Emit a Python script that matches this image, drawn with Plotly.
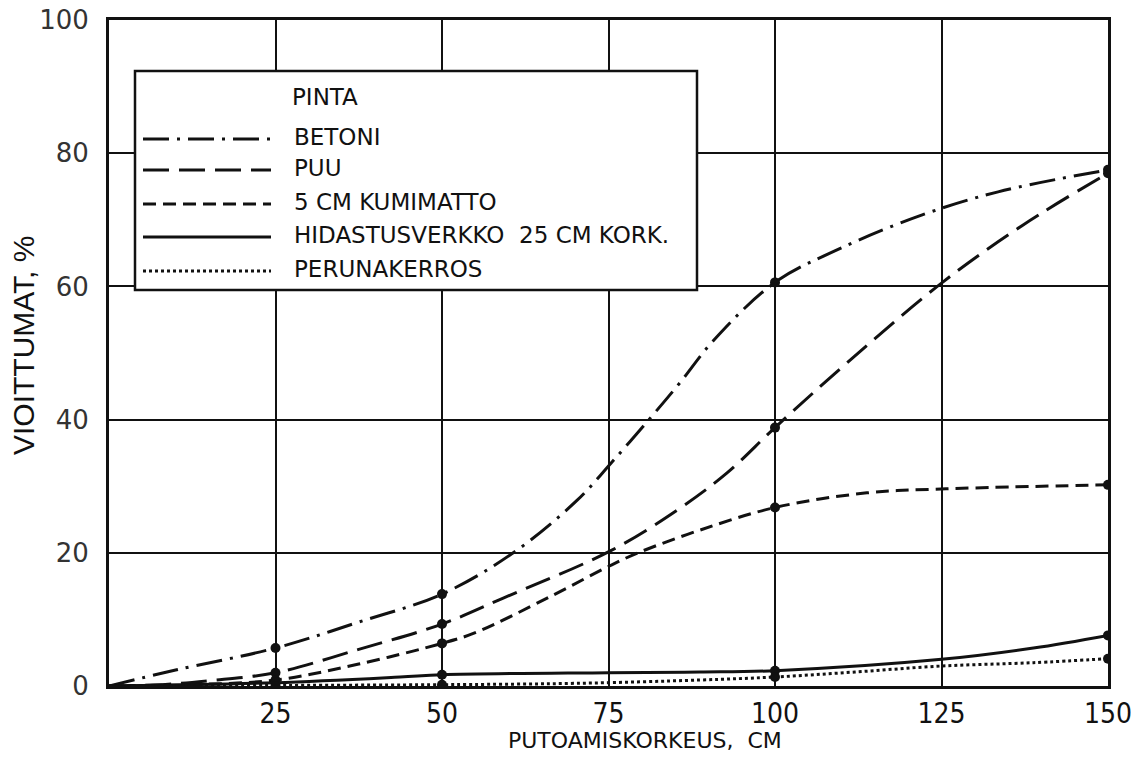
import plotly.graph_objects as go

# ---------------- data ----------------
series_names = ["BETONI", "PUU", "5 CM KUMIMATTO", "HIDASTUSVERKKO  25 CM KORK.", "PERUNAKERROS"]

# measured points (markers)
measured_x = [25, 50, 100, 150]
betoni_pts = [5.7, 13.8, 60.6, 77.5]
puu_pts = [2.0, 9.3, 38.8, 77.0]
kumimatto_pts = [0.9, 6.4, 26.8, 30.2]
hidastus_pts = [0.5, 1.7, 2.3, 7.6]
peruna_pts = [0.0, 0.2, 1.35, 4.1]

# hand-drawn curves
betoni_cx = [0, 10, 25, 37.5, 50, 60.7, 70.3, 75.5, 81.5, 85.7, 90.7, 100, 109.8, 122, 133.5, 150]
betoni_cy = [0, 2.4, 5.7, 9.6, 13.8, 20, 27.9, 33.6, 40.5, 45.5, 51.8, 60.6, 65.7, 70.7, 74.2, 77.5]

puu_cx = [0, 8, 15, 25, 37.5, 50, 59.2, 75.5, 85.3, 92.8, 100, 110.8, 125, 137.2, 150]
puu_cy = [0, 0.2, 0.8, 2.0, 5.5, 9.3, 13.2, 20.4, 26.4, 32, 38.8, 48.5, 60.5, 69.2, 77.0]

kumimatto_cx = [0, 12, 25, 37.5, 50, 55, 66.2, 75.5, 79.7, 88.7, 100, 113.8, 125.7, 150]
kumimatto_cy = [0, 0.2, 0.9, 3.3, 6.4, 8.0, 13.4, 18.2, 20.1, 23.4, 26.8, 29.0, 29.6, 30.2]

hidastus_cx = [0, 25, 43.7, 50, 75, 88.7, 100, 125, 138.8, 150]
hidastus_cy = [0, 0.5, 1.35, 1.7, 2.0, 2.1, 2.3, 4.0, 5.7, 7.6]

peruna_cx = [0, 50, 70, 88.7, 100, 112, 125, 138.8, 150]
peruna_cy = [0, 0.2, 0.4, 0.9, 1.35, 2.1, 3.0, 3.5, 4.1]

x_ticks = [25, 50, 75, 100, 125, 150]
y_ticks = [0, 20, 40, 60, 80, 100]

legend_title = "PINTA"
x_title = "PUTOAMISKORKEUS,  CM"
y_title = "VIOITTUMAT, %"

# ---------------- styles ----------------
INK = "#111111"
dashes = ["26px,8px,3px,8px", "26px,10px", "13px,7px", "solid", "3px,3px"]
curves = [
    (betoni_cx, betoni_cy, betoni_pts),
    (puu_cx, puu_cy, puu_pts),
    (kumimatto_cx, kumimatto_cy, kumimatto_pts),
    (hidastus_cx, hidastus_cy, hidastus_pts),
    (peruna_cx, peruna_cy, peruna_pts),
]

fig = go.Figure()
for name, (cx, cy, pts), dash in zip(series_names, curves, dashes):
    fig.add_trace(go.Scatter(
        x=cx, y=cy, mode="lines", name=name, showlegend=False,
        line=dict(color=INK, width=3, dash=dash, shape="spline", smoothing=1.0),
        hoverinfo="skip",
    ))
    fig.add_trace(go.Scatter(
        x=measured_x, y=pts, mode="markers", name=name, showlegend=False,
        marker=dict(color=INK, size=10),
    ))

# ---------------- geometry helpers (pixel -> paper) ----------------
L, R, T, B = 109, 1108, 20, 686
W, H = R - L, B - T
def px(x):
    return (x - L) / W
def py(y):
    return (B - y) / H

LEG_FONT = dict(family="DejaVu Sans", size=23, color=INK)

# custom legend box
shapes = [dict(type="rect", xref="paper", yref="paper",
               x0=px(135), x1=px(697), y0=py(290), y1=py(71),
               line=dict(color=INK, width=2.5), fillcolor="white", layer="above")]
annotations = [dict(xref="paper", yref="paper", x=px(290), y=py(97), text=legend_title,
                    showarrow=False, xanchor="left", yanchor="middle", font=LEG_FONT)]
row_y = [139, 170, 204, 237, 271]
for name, dash, ry in zip(series_names, dashes, row_y):
    shapes.append(dict(type="line", xref="paper", yref="paper",
                       x0=px(143), x1=px(271), y0=py(ry), y1=py(ry),
                       line=dict(color=INK, width=3, dash=dash), layer="above"))
    annotations.append(dict(xref="paper", yref="paper", x=px(292), y=py(ry - 2), text=name,
                            showarrow=False, xanchor="left", yanchor="middle", font=LEG_FONT))

# axis titles
annotations.append(dict(xref="paper", yref="paper", x=px(645), y=py(740), text=x_title,
                        showarrow=False, xanchor="center", yanchor="middle",
                        font=dict(family="DejaVu Sans", size=22, color=INK)))
annotations.append(dict(xref="paper", yref="paper", x=px(23), y=py(346), text=y_title,
                        showarrow=False, xanchor="center", yanchor="middle", textangle=-90,
                        font=dict(family="Liberation Sans", size=30, color=INK)))

fig.update_layout(
    width=1131, height=769,
    margin=dict(l=L, r=1131 - R, t=T, b=769 - B, autoexpand=False),
    paper_bgcolor="white", plot_bgcolor="white",
    shapes=shapes, annotations=annotations,
    showlegend=False,
)
fig.update_xaxes(
    range=[0, 150], tickvals=x_ticks, ticktext=[str(v) for v in x_ticks],
    showgrid=True, gridcolor=INK, gridwidth=1.6,
    showline=True, linecolor=INK, linewidth=3, mirror=True,
    ticks="", ticklen=0, ticklabelstandoff=0, zeroline=False, automargin=False,
    ticklabeloverflow="allow",
    tickfont=dict(family="Liberation Sans Narrow, DejaVu Sans Condensed, Liberation Sans", size=28, color=INK),
)
fig.update_yaxes(
    range=[0, 100], tickvals=y_ticks, ticktext=[str(v) for v in y_ticks],
    showgrid=True, gridcolor=INK, gridwidth=1.6,
    showline=True, linecolor=INK, linewidth=3, mirror=True,
    ticks="", ticklen=0, ticklabelstandoff=12, zeroline=False, automargin=False,
    ticklabeloverflow="allow",
    tickfont=dict(family="DejaVu Sans", size=26, color="#333333"),
)

fig.write_html("out.html", config={"displayModeBar": False},
               post_script="document.body.style.margin='0';")
